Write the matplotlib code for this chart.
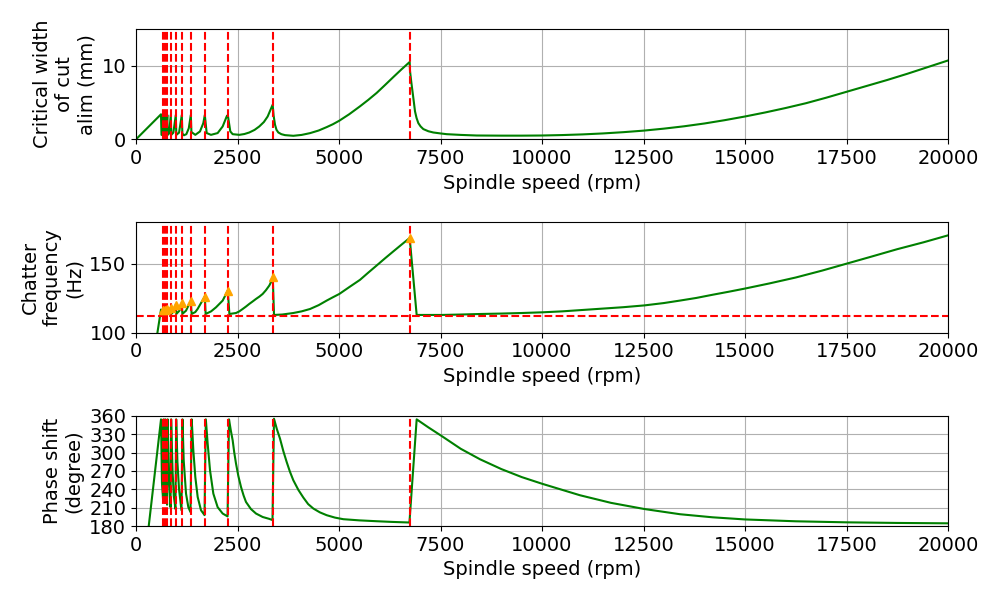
import matplotlib
matplotlib.use("Agg")
import matplotlib.pyplot as plt

# ---------------- data ----------------
lobe_speeds = [672, 714, 771, 857, 980, 1128, 1350, 1695, 2261, 3369, 6741]
peak_freqs = [116.5, 116.8, 117.3, 118.2, 120.0, 121.6, 122.8, 126.2, 130.5, 140.2, 168.6]
natural_freq = 112.4

alim_speed = [0, 616, 628, 650, 672, 680, 695, 714, 722, 745, 771, 780, 815, 857,
              868, 920, 980, 993, 1060, 1128, 1142, 1180, 1240, 1300, 1350, 1365,
              1400, 1461, 1576, 1658, 1695, 1741, 1847, 2011, 2135, 2233, 2261,
              2323, 2381, 2545, 2670, 2791, 2920, 3037, 3150, 3243, 3366, 3390,
              3424, 3460, 3506, 3580, 3670, 3875, 4080, 4286, 4500, 4697, 4850,
              5008, 5250, 5517, 5720, 5928, 6130, 6338, 6540, 6741, 6749, 6780,
              6815, 6845, 6872, 6910, 6954, 7010, 7077, 7200, 7323, 7500, 7653,
              8000, 8392, 9000, 9500, 10000, 10500, 11000, 11500, 12000, 12500,
              13000, 13500, 14000, 14500, 15000, 15500, 16000, 16500, 17000,
              17500, 18000, 18500, 19000, 19500, 20000]
alim = [0, 3.4, 0.6, 0.6, 3.3, 0.6, 0.7, 3.3, 0.6, 0.8, 3.3, 0.6, 0.8, 3.3,
        0.6, 0.9, 3.3, 0.6, 0.9, 3.3, 0.8, 0.55, 0.7, 1.5, 3.3, 1.0,
        0.85, 0.61, 1.07, 2.2, 3.3, 0.85, 0.61, 0.85, 1.75, 3.1, 3.3,
        1.07, 0.7, 0.61, 0.72, 0.93, 1.28, 1.75, 2.35, 3.1, 4.7, 3.2,
        1.98, 1.3, 0.93, 0.7, 0.57, 0.48, 0.6, 0.84, 1.2, 1.66, 2.05,
        2.53, 3.4, 4.48, 5.35, 6.3, 7.35, 8.45, 9.5, 10.5, 9.27, 7.8,
        6.3, 5.0, 3.8, 2.9, 2.2, 1.75, 1.39, 1.1, 0.93, 0.8, 0.7,
        0.6, 0.52, 0.5, 0.5, 0.52, 0.58, 0.67, 0.8, 0.97, 1.18,
        1.45, 1.77, 2.15, 2.6, 3.1, 3.65, 4.25, 4.9, 5.65,
        6.45, 7.25, 8.05, 8.9, 9.8, 10.7]

freq_speed = [0, 616, 628, 672, 680, 714, 722, 771, 780, 857, 868, 930, 980, 993,
              1070, 1128, 1142, 1232, 1289, 1350, 1370, 1461, 1519, 1601, 1695,
              1715, 1850, 1970, 2135, 2261, 2300, 2463, 2545, 2627, 2710, 2791,
              2875, 2956, 3040, 3120, 3200, 3284, 3330, 3369, 3399, 3600, 3875,
              4080, 4286, 4500, 4697, 4850, 5008, 5260, 5517, 5720, 5928, 6130,
              6338, 6540, 6741, 6913, 7530, 8000, 8500, 9000, 9500, 10008, 10500,
              11000, 11500, 12000, 12520, 13000, 13399, 13800, 14200, 14600,
              15000, 15600, 16250, 16900, 17500, 18100, 18750, 19400, 20000]
freq = [0, 116.8, 113.6, 116.5, 113.6, 116.8, 113.6, 117.3, 113.6, 118.2, 113.6, 115.5, 120.0, 113.6,
        116.0, 121.6, 113.6, 116.0, 119.5, 122.8, 113.6, 115.0, 117.3, 121.5, 126.2,
        113.6, 115.5, 118.4, 123.3, 130.5, 113.6, 114.3, 115.5, 117.2, 119.0, 120.9,
        122.7, 124.5, 126.2, 128.1, 130.8, 134.2, 137.0, 140.2, 112.9, 113.2, 114.3,
        115.5, 117.2, 120.0, 123.3, 125.7, 128.1, 133.2, 138.3, 143.5, 148.7, 153.8,
        158.9, 163.8, 168.6, 112.9, 112.9, 113.2, 113.6, 113.9, 114.3, 114.8, 115.5,
        116.5, 117.5, 118.5, 119.8, 121.5, 123.3, 125.2, 127.5, 129.7,
        132.0, 135.7, 140.0, 145.0, 150.0, 155.0, 160.5, 165.5, 170.5]

phase_speed = [0, 616, 640, 668, 680, 700, 710, 722, 745, 765, 780, 810, 850, 866,
               900, 930, 972, 990, 1020, 1060, 1120, 1145, 1175, 1232, 1289, 1342,
               1372, 1412, 1461, 1519, 1601, 1688, 1720, 1765, 1823, 1905, 2011,
               2135, 2255, 2291, 2335, 2381, 2420, 2463, 2520, 2586, 2650, 2709,
               2830, 2956, 3120, 3284, 3362, 3399, 3470, 3547, 3630, 3711, 3790,
               3875, 4000, 4121, 4240, 4367, 4530, 4697, 4900, 5106, 5500, 5928,
               6300, 6735, 6913, 7200, 7530, 8000, 8473, 9000, 9500, 10008, 10935,
               11700, 12520, 13399, 14200, 15000, 16250, 17500, 18750, 20000]
phase = [0, 354, 250, 222, 354, 250, 218, 354, 250, 215, 354, 260, 211, 354,
         270, 230, 208, 354, 285, 240, 206, 354, 287, 233, 211, 203,
         354, 303.6, 260, 227.6, 206, 198, 354, 314.5, 271, 233, 211,
         200.6, 196, 354, 336, 319.8, 300, 282, 262, 244, 230, 219.5,
         208, 200.6, 195, 191.9, 190, 355, 338, 322.6, 302, 284.6, 269,
         254.8, 239, 226.7, 216, 208.8, 202.5, 197.9, 194, 191.4, 189.5, 188.1,
         187, 186, 354, 341, 326.8, 306, 289, 273, 260, 249, 230.4,
         218, 208, 199.5, 194.5, 191, 188, 186.3, 185.3, 184.7]

x_ticks = [0, 2500, 5000, 7500, 10000, 12500, 15000, 17500, 20000]
alim_ticks = [0, 10]
freq_ticks = [100, 150]
phase_ticks = [180, 210, 240, 270, 300, 330, 360]

# ---------------- figure ----------------
plt.rcParams['font.family'] = ['DejaVu Sans']
fs = 14
fig, axes = plt.subplots(3, 1, figsize=(10, 6), dpi=100)
fig.subplots_adjust(left=0.136, right=0.948, top=0.952, bottom=0.123, hspace=0.75)

ax1, ax2, ax3 = axes

ax1.plot(alim_speed, alim, color='green', lw=1.5)
for s in lobe_speeds:
    ax1.axvline(s, color='red', ls='--', lw=1.5)
ax1.set_ylim(0, 15)
ax1.set_yticks(alim_ticks)
ax1.set_ylabel('Critical width\nof cut\nalim (mm)', fontsize=fs)

ax2.plot(freq_speed, freq, color='green', lw=1.5)
for s in lobe_speeds:
    ax2.axvline(s, color='red', ls='--', lw=1.5)
ax2.axhline(natural_freq, color='red', ls='--', lw=1.5)
ax2.plot(lobe_speeds, peak_freqs, '^', color='orange', markersize=6)
ax2.set_ylim(100, 180)
ax2.set_yticks(freq_ticks)
ax2.set_ylabel('Chatter\nfrequency\n(Hz)', fontsize=fs)

ax3.plot(phase_speed, phase, color='green', lw=1.5)
for s in lobe_speeds:
    ax3.axvline(s, color='red', ls='--', lw=1.5)
ax3.set_ylim(180, 360)
ax3.set_yticks(phase_ticks)
ax3.set_ylabel('Phase shift\n(degree)', fontsize=fs)

for ax in axes:
    ax.set_xlim(0, 20000)
    ax.set_xticks(x_ticks)
    ax.set_xlabel('Spindle speed (rpm)', fontsize=fs)
    ax.tick_params(labelsize=fs)
    ax.grid(True)

fig.savefig('out.png', dpi=100)
